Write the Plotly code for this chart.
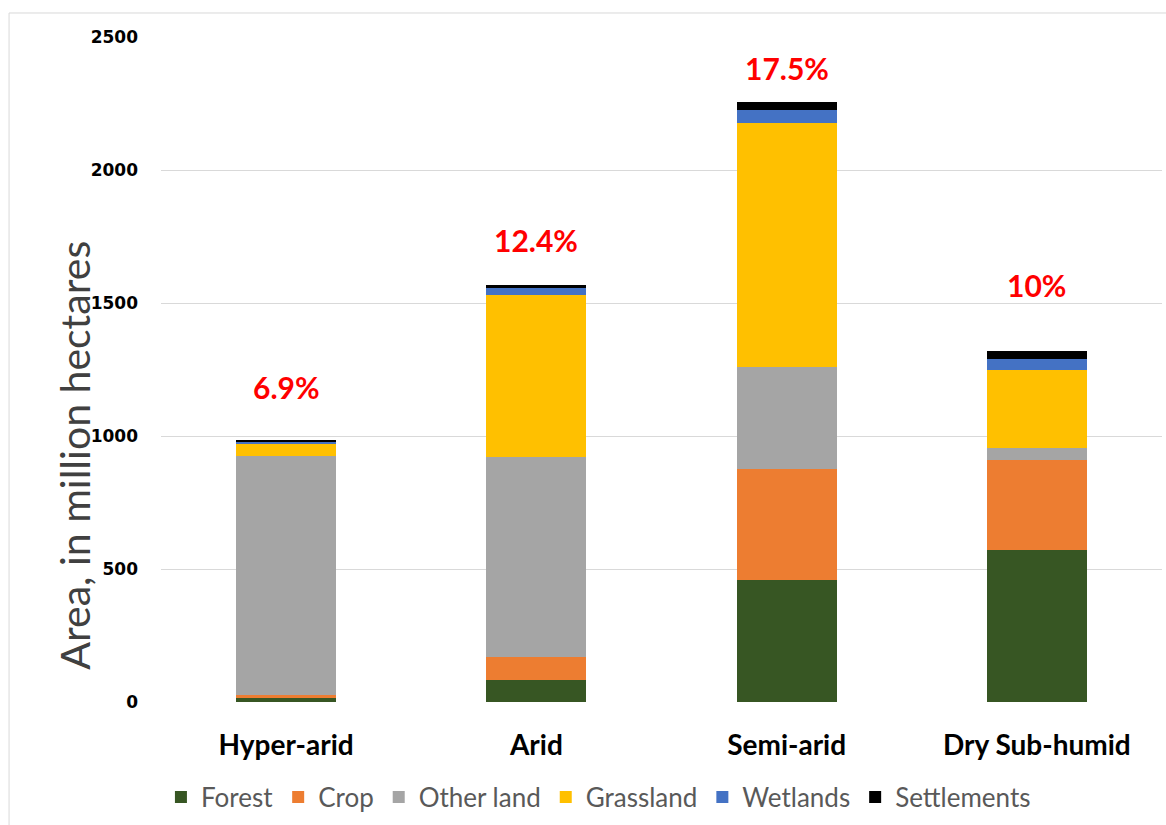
import plotly.graph_objects as go

# Dryland zones and land-use area (million hectares)
zones = ["Hyper-arid", "Arid", "Semi-arid", "Dry Sub-humid"]
forest = [14, 83, 460, 571]
crop = [12, 87, 415, 339]
other_land = [899, 750, 385, 44]
grassland = [45, 610, 915, 294]
wetlands = [8, 25, 50, 40]
settlements = [4, 13, 30, 33]

# Share of global land area per zone, and the height at which each label sits
shares = ["6.9%", "12.4%", "17.5%", "10%"]
share_label_y = [1184, 1737, 2383, 1568]

series = [
    ("Forest", forest, "#375623"),
    ("Crop", crop, "#ED7D31"),
    ("Other land", other_land, "#A5A5A5"),
    ("Grassland", grassland, "#FFC000"),
    ("Wetlands", wetlands, "#4472C4"),
    ("Settlements", settlements, "#000000"),
]

fig = go.Figure()
for name, vals, color in series:
    fig.add_trace(go.Bar(
        name=name, x=zones, y=vals,
        marker=dict(color=color, line=dict(width=0)),
    ))

for zone, txt, yv in zip(zones, shares, share_label_y):
    fig.add_annotation(
        x=zone, y=yv, text=txt, showarrow=False,
        font=dict(family="Lato", size=30, color="#FF0000", weight="bold"),
    )

# Vertical axis title
fig.add_annotation(
    xref="paper", yref="paper", x=-0.113, y=0.371,
    text="Area, in million hectares", textangle=-90, showarrow=False,
    font=dict(family="Lato", size=41, color="#404040"),
)

# Light frame around the whole chart
fig.add_shape(
    type="rect", xref="paper", yref="paper",
    x0=-0.1518, y0=-0.3, x1=1.1, y1=1.0361,
    line=dict(color="#D9D9D9", width=1), fillcolor="rgba(0,0,0,0)", layer="below",
)

fig.update_layout(
    barmode="stack",
    bargap=0.6,
    width=1166, height=825,
    margin=dict(l=161, r=4, t=37, b=123),
    paper_bgcolor="white", plot_bgcolor="white",
    showlegend=True,
    legend=dict(
        orientation="h", x=0.437, xanchor="center", y=-0.143, yanchor="middle",
        font=dict(family="Lato", size=26, color="#595959"),
        traceorder="normal", itemwidth=30,
    ),
    xaxis=dict(
        showgrid=False, showline=False, zeroline=False,
        tickfont=dict(family="Lato", size=28, color="#000000", weight="bold"),
        ticklabelstandoff=24,
    ),
    yaxis=dict(
        range=[0, 2500], dtick=500, tick0=0,
        showgrid=True, gridcolor="#D9D9D9", gridwidth=1,
        zeroline=False, showline=False,
        tickfont=dict(family="DejaVu Sans", size=17, color="#000000", weight="bold"),
        ticklabelstandoff=22,
    ),
)

fig.write_html("out.html")
